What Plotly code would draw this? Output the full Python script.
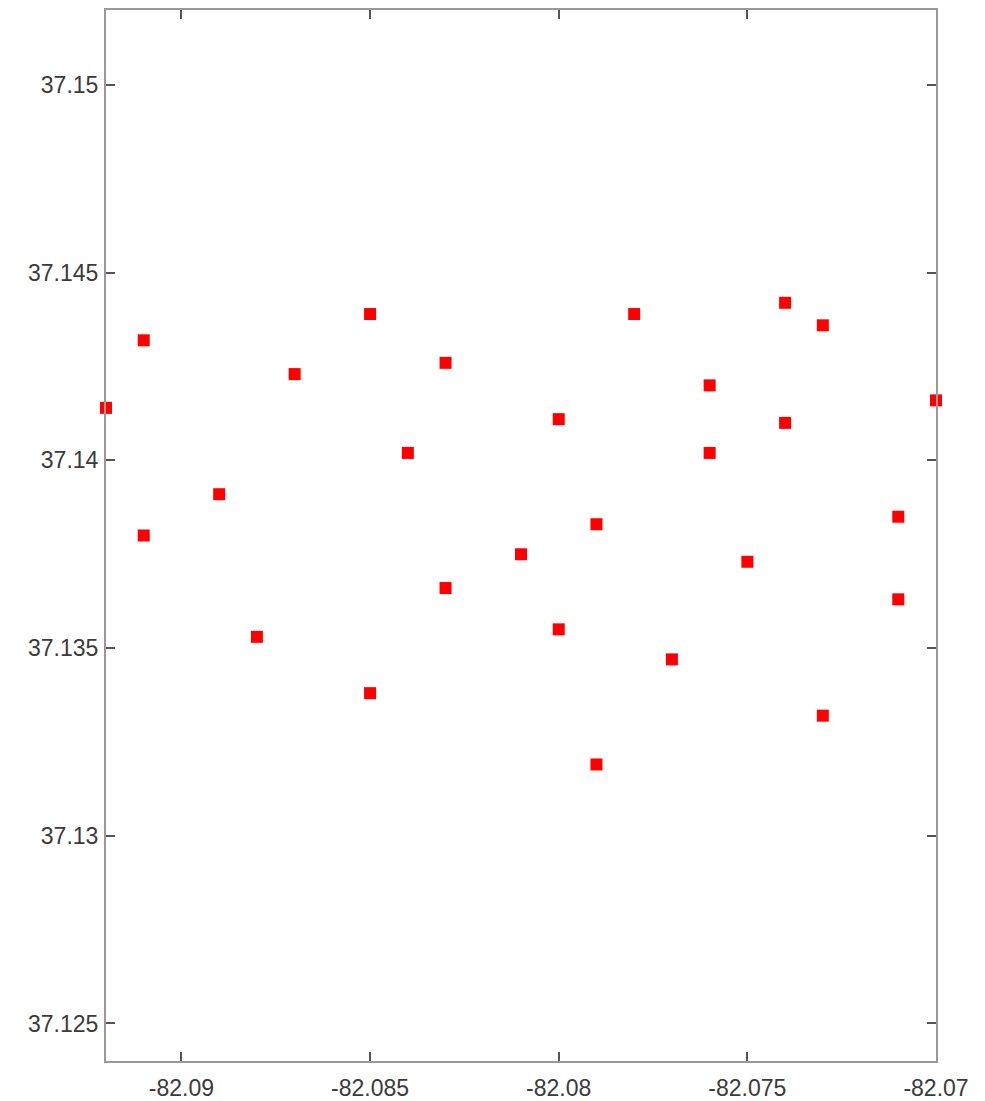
import plotly.graph_objects as go

lon = [-82.092, -82.091, -82.091, -82.089, -82.088, -82.087, -82.085, -82.085,
       -82.084, -82.083, -82.083, -82.081, -82.080, -82.080, -82.079, -82.079,
       -82.078, -82.077, -82.076, -82.076, -82.075, -82.074, -82.074, -82.073,
       -82.073, -82.071, -82.071, -82.070]
lat = [37.1414, 37.1432, 37.1380, 37.1391, 37.1353, 37.1423, 37.1439, 37.1338,
       37.1402, 37.1426, 37.1366, 37.1375, 37.1411, 37.1355, 37.1383, 37.1319,
       37.1439, 37.1347, 37.1420, 37.1402, 37.1373, 37.1442, 37.1410, 37.1436,
       37.1332, 37.1385, 37.1363, 37.1416]

x_ticks = [-82.09, -82.085, -82.08, -82.075, -82.07]
x_labels = ["-82.09", "-82.085", "-82.08", "-82.075", "-82.07"]
y_ticks = [37.125, 37.13, 37.135, 37.14, 37.145, 37.15]
y_labels = ["37.125", "37.13", "37.135", "37.14", "37.145", "37.15"]

fig = go.Figure(go.Scatter(
    x=lon, y=lat, mode="markers",
    marker=dict(symbol="square", size=12, color="#ff0000", line=dict(width=0)),
    cliponaxis=False, showlegend=False,
))

axis_common = dict(
    showgrid=False, zeroline=False, showline=True, mirror="ticks",
    linecolor="#999999", linewidth=2, ticks="inside", ticklen=9,
    tickwidth=1.5, tickcolor="#555555", automargin=False,
    tickfont=dict(family="Liberation Sans, Arial, sans-serif", size=23, color="#3a3a3a"),
)

fig.update_layout(
    width=985, height=1101,
    margin=dict(l=98, r=57, t=2, b=48),
    plot_bgcolor="white", paper_bgcolor="white",
    xaxis=dict(range=[-82.092, -82.07], tickmode="array", tickvals=x_ticks,
               ticktext=x_labels, ticklabelstandoff=5, **axis_common),
    yaxis=dict(range=[37.124, 37.152], tickmode="array", tickvals=y_ticks,
               ticktext=y_labels, ticklabelstandoff=1, **axis_common),
)

fig.write_html("out.html")
